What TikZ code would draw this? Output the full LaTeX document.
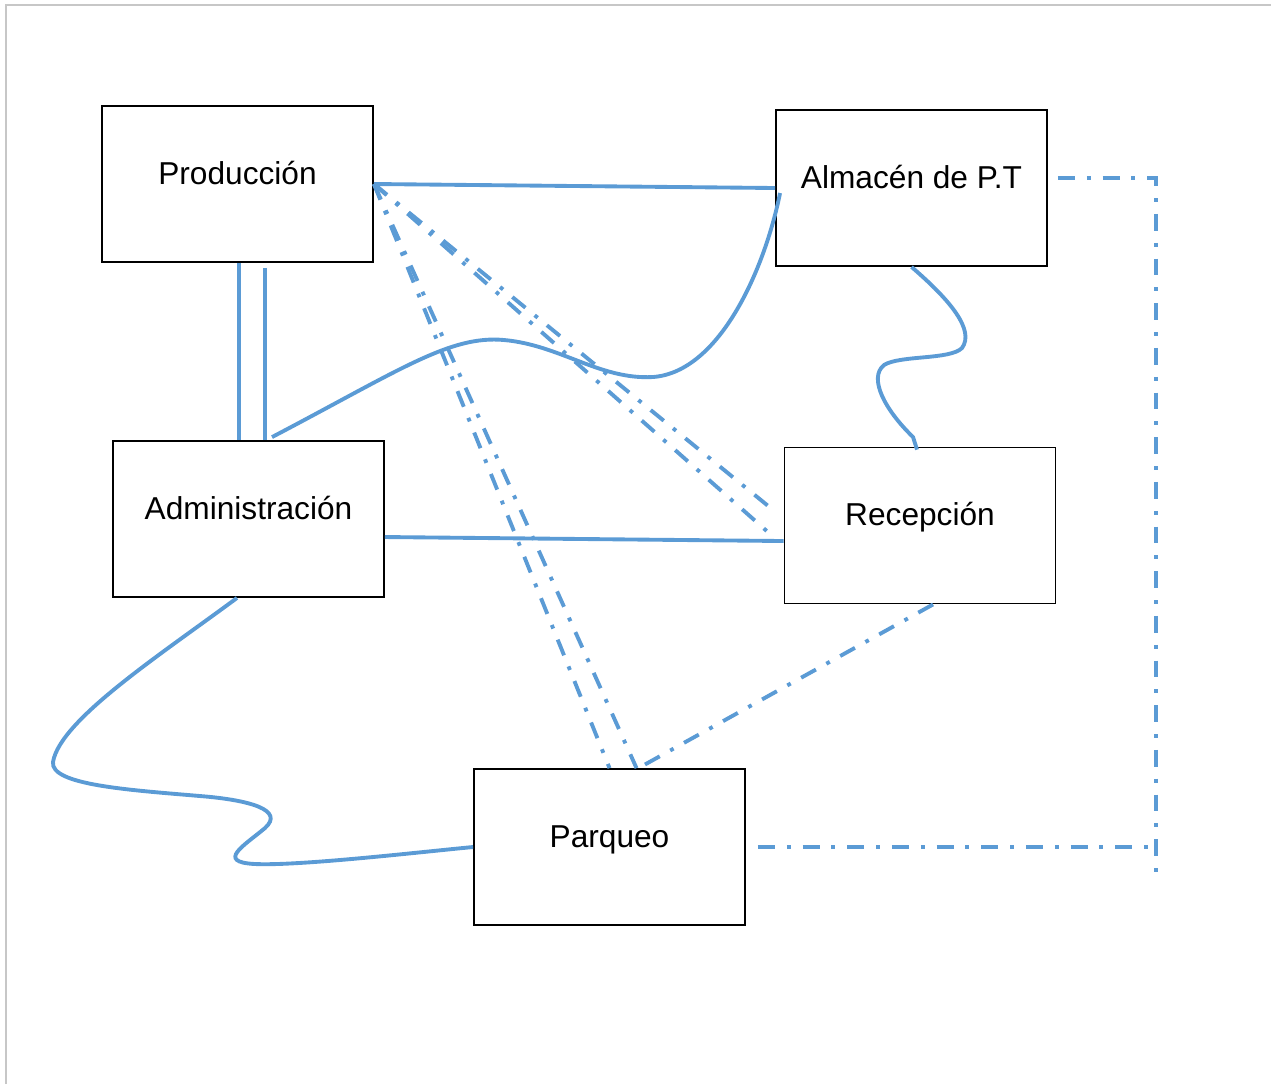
\documentclass[tikz,border=0pt]{standalone}
\usepackage{fontspec}
\setmainfont{Liberation Sans}
\usepackage{xcolor}
\definecolor{linkblue}{HTML}{5B9BD5}

\begin{document}
\begin{tikzpicture}[x=0.01cm, y=-0.01cm,
    block/.style={draw, line width=0.5pt, minimum width=2.71cm, minimum height=1.56cm,
        inner sep=0pt, text height=0pt, text depth=0pt, font=\fontsize{9pt}{11pt}\selectfont},
    link/.style={draw=linkblue, line width=1.1pt},
    flow/.style={link, dash pattern=on 4.8pt off 3.4pt on 1.1pt off 3.4pt}]
    \useasboundingbox (0,0) rectangle (1271,1084);

    % Page edge
    \draw[black!22, line width=0.6pt] (6,1084) -- (6,5) -- (1271,5);

    % Boxes
    \node[block] (prod) at (237.5,184) {Producción};
    \node[block] (alm) at (911.5,188) {Almacén de P.T};
    \node[block] (adm) at (248.5,519) {Administración};
    \node[block] (rec) at (920,525.5) {Recepción};
    \node[block] (par) at (609.5,847) {Parqueo};

    % Straight links
    \draw[link] (prod.east) -- (alm.west);
    \draw[link] ([yshift=-0.18cm]adm.east) -- ([yshift=-0.155cm]rec.west);
    \coordinate (d1) at ([xshift=0.015cm]prod.south);
    \coordinate (d2) at ([shift={(0.275cm,-0.05cm)}]prod.south);
    \draw[link] (d1) -- (d1 |- adm.north);
    \draw[link] (d2) -- (d2 |- adm.north);

    % Curved links
    \draw[link] ([shift={(0.235cm,0.03cm)}]adm.north)
        .. controls (400,370) and (450,335) .. (504,340)
        .. controls (560,345) and (600,380) .. (653,377)
        .. controls (720,372) and (765,268) .. ([shift={(0.05cm,-0.05cm)}]alm.west);
    \draw[link] (alm.south)
        .. controls (950,300) and (975,330) .. (962,348)
        .. controls (950,360) and (900,355) .. (884,365)
        .. controls (868,378) and (885,410) .. (913,437)
        -- ([shift={(-0.03cm,-0.03cm)}]rec.north);
    \draw[link] ([xshift=-0.115cm]adm.south)
        .. controls (160,655) and (60,720) .. (53,762)
        .. controls (50,785) and (130,790) .. (200,796)
        .. controls (250,800) and (285,810) .. (265,828)
        .. controls (245,845) and (215,862) .. (255,864)
        .. controls (300,866) and (420,852) .. (par.west);

    % Dash-dot links
    \draw[flow] (prod.east) -- ([shift={(-0.08cm,0.135cm)}]rec.west);
    \draw[flow] (prod.east) -- ([shift={(-0.1cm,-0.115cm)}]rec.west);
    \draw[flow] (prod.east) -- (par.north);
    \draw[flow] (prod.east) -- ([xshift=0.27cm]par.north);
    \draw[flow] ([xshift=0.13cm]rec.south) -- ([xshift=0.29cm]par.north);
    \coordinate (edge) at (1156,872);
    \draw[flow] ([shift={(0.1cm,0.1cm)}]alm.east) -| (edge);
    \draw[flow] ([xshift=0.12cm]par.east) -- (par.east -| edge);
\end{tikzpicture}
\end{document}
